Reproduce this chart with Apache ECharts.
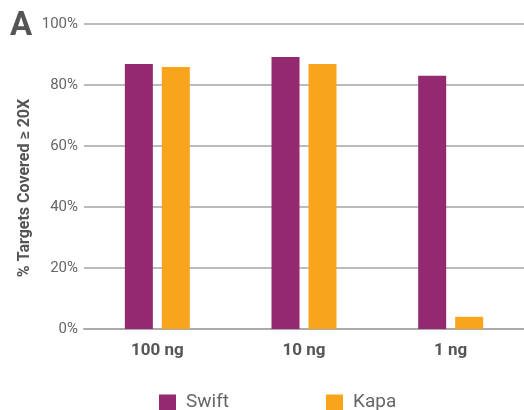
<!DOCTYPE html>
<html><head><meta charset="utf-8">
<script src="https://cdn.jsdelivr.net/npm/echarts@6/dist/echarts.min.js"></script>
<style>html,body{margin:0;padding:0;background:#fff}#c{width:524px;height:410px}</style>
</head><body><div id="c"></div>
<script>
const categories = ['100 ng', '10 ng', '1 ng'];
const swift = [86.9, 89.2, 83.0];
const kapa = [85.9, 86.9, 4.0];
const yTicks = [0, 20, 40, 60, 80, 100];
const yTitle = '% Targets Covered ≥ 20X';

const chart = echarts.init(document.getElementById('c'));
chart.setOption({
  animation: false,
  textStyle: { fontFamily: 'Roboto' },
  graphic: [
    { type: 'text', left: 10, top: 10, style: { text: 'A', font: 'bold 33px Roboto', fill: '#555' } },
    { type: 'text', x: 25, y: 188, rotation: Math.PI / 2,
      style: { text: yTitle, font: 'bold 16px Roboto', fill: '#555', align: 'center', verticalAlign: 'middle' } }
  ],
  grid: { left: 84, right: -2, top: 24, bottom: 81 },
  legend: {
    data: ['Swift', 'Kapa'], left: 154, top: 388, itemWidth: 17, itemHeight: 16, itemGap: 97,
    icon: 'rect', textStyle: { fontSize: 19, color: '#666', padding: [0, 0, 0, 5] }
  },
  xAxis: {
    type: 'category', data: categories,
    axisLine: { lineStyle: { color: '#aaa', width: 2 } },
    axisTick: { show: false },
    axisLabel: { fontSize: 17, fontWeight: 'bold', color: '#555', margin: 13 }
  },
  yAxis: {
    type: 'value', min: 0, max: 100, interval: 20,
    axisLine: { show: false }, axisTick: { show: false },
    axisLabel: { formatter: '{value}%', fontSize: 15, color: '#666', margin: 6 },
    splitLine: { lineStyle: { color: '#bbb', width: 2 } }
  },
  series: [
    { name: 'Swift', type: 'bar', data: swift, barWidth: 28, barGap: '32%', itemStyle: { color: '#93296f' } },
    { name: 'Kapa', type: 'bar', data: kapa, barWidth: 28, itemStyle: { color: '#f8a51b' } }
  ]
});
</script></body></html>
